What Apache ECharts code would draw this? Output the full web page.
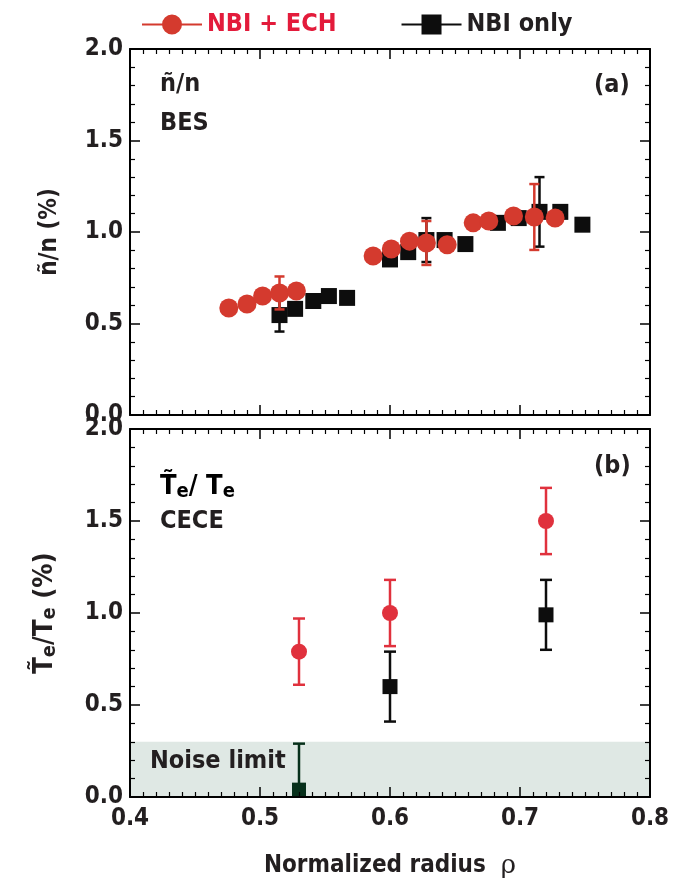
<!DOCTYPE html>
<html>
<head>
<meta charset="utf-8">
<script src="https://cdn.jsdelivr.net/npm/echarts@6/dist/echarts.min.js"></script>
<style>
html,body{margin:0;padding:0;background:#fff;}
#chart{width:678px;height:881px;}
</style>
</head>
<body>
<div id="chart"></div>
<script>
// panel (a): BES density fluctuation
var topRedX = [0.476,0.490,0.502,0.515,0.528,0.587,0.601,0.615,0.628,0.644,0.664,0.676,0.695,0.711,0.727];
var topRedY = [0.585,0.607,0.650,0.667,0.678,0.869,0.907,0.950,0.940,0.930,1.050,1.060,1.087,1.082,1.076];
var topRedErr = [null,null,null,0.09,null,null,null,null,0.12,null,null,null,null,0.18,null];
var topBlackX = [0.515,0.527,0.541,0.553,0.567,0.600,0.614,0.628,0.642,0.658,0.683,0.699,0.715,0.731,0.748];
var topBlackY = [0.546,0.580,0.623,0.650,0.640,0.850,0.890,0.956,0.956,0.934,1.050,1.076,1.110,1.110,1.040];
var topBlackErr = [0.09,null,null,null,null,null,null,0.12,null,null,null,null,0.19,null,null];

// panel (b): CECE temperature fluctuation
var botRedX = [0.53,0.60,0.72];
var botRedY = [0.79,1.00,1.50];
var botRedErr = [0.18,0.18,0.18];
var botBlackX = [0.60,0.72];
var botBlackY = [0.60,0.99];
var botBlackErr = [0.19,0.19];
var noiseX = [0.53];
var noiseY = [0.04];
var noiseTop = [0.29];
var noiseLevel = 0.3;

var FONT = '"DejaVu Sans Condensed","Liberation Sans",Arial,sans-serif';
var RED = '#d43a2e';
var RED2 = '#e0313d';
var BLACK = '#0d0d0d';
var TXT = '#231f20';

function pts(xs, ys){
	var out = [];
	for(var i=0;i<xs.length;i++){ out.push([xs[i], ys[i]]); }
	return out;
}
function errs(xs, ys, es){
	var out = [];
	for(var i=0;i<xs.length;i++){
		if(es[i]==null) continue;
		out.push([xs[i], ys[i]-es[i], ys[i]+es[i]]);
	}
	return out;
}

function errorBar(color, capW){
	return function(params, api){
		var x = api.value(0);
		var p1 = api.coord([x, api.value(2)]);
		var p2 = api.coord([x, api.value(1)]);
		var st = {stroke:color, lineWidth:2.5};
		return {type:'group', children:[
			{type:'line', shape:{x1:p1[0],y1:p1[1],x2:p2[0],y2:p2[1]}, style:st},
			{type:'line', shape:{x1:p1[0]-capW,y1:p1[1],x2:p1[0]+capW,y2:p1[1]}, style:st},
			{type:'line', shape:{x1:p2[0]-capW,y1:p2[1],x2:p2[0]+capW,y2:p2[1]}, style:st}
		]};
	};
}

function yAx(grid, pos, withLabel, name){
	var a = {
		type:'value', gridIndex:grid, position:pos, min:0, max:2, interval:0.5, z:10,
		axisLine:{show:true, onZero:false, lineStyle:{color:'#000', width:2}},
		axisTick:{show:true, inside:true, length:10, lineStyle:{color:'#000', width:1.5}},
		minorTick:{show:true, splitNumber:5, length:5, lineStyle:{color:'#000', width:1.2}},
		splitLine:{show:false},
		axisLabel:{show:withLabel, margin:7, color:TXT, fontFamily:FONT, fontWeight:'bold', fontSize:24,
			formatter:function(v){ return v.toFixed(1); }}
	};
	if(name){
		a.name = name.text;
		a.nameLocation = 'middle';
		a.nameRotate = 90;
		a.nameGap = 68;
		a.nameTextStyle = name.style;
	}
	return a;
}
function xAx(grid, pos, withLabel, name){
	var a = {
		type:'value', gridIndex:grid, position:pos, min:0.4, max:0.8, interval:0.1, z:10,
		axisLine:{show:true, onZero:false, lineStyle:{color:'#000', width:2}},
		axisTick:{show:true, inside:true, length:10, lineStyle:{color:'#000', width:1.5}},
		minorTick:{show:true, splitNumber:10, length:5, lineStyle:{color:'#000', width:1.2}},
		splitLine:{show:false},
		axisLabel:{show:withLabel, margin:10, color:TXT, fontFamily:FONT, fontWeight:'bold', fontSize:24,
			formatter:function(v){ return v.toFixed(1); }}
	};
	if(name){
		a.name = name.text;
		a.nameLocation = 'middle';
		a.nameGap = 56;
		a.nameTextStyle = name.style;
	}
	return a;
}

var nameStyleA = {color:TXT, fontFamily:FONT, fontWeight:'bold', fontSize:24};
var nameStyleB = {
	rich:{
		b:{color:TXT, fontFamily:FONT, fontWeight:'bold', fontSize:27, lineHeight:34},
		s:{color:TXT, fontFamily:FONT, fontWeight:'bold', fontSize:20, lineHeight:34, padding:[10,0,0,0]}
	}
};
var nameStyleX = {
	rich:{
		b:{color:TXT, fontFamily:FONT, fontWeight:'bold', fontSize:24},
		r:{color:TXT, fontFamily:'"DejaVu Serif",serif', fontSize:26}
	}
};

var chart = echarts.init(document.getElementById('chart'));
var option = {
	backgroundColor:'#fff',
	animation:false,
	legend:{
		left:137, top:7, itemWidth:60, itemHeight:20, itemGap:65,
		textStyle:{fontFamily:FONT, fontWeight:'bold', fontSize:25},
		data:[
			{name:'NBI + ECH', icon:'path://M0,9 H60 V11 H0 Z M20,10 A10,10 0 1 1 40,10 A10,10 0 1 1 20,10 Z', textStyle:{color:'#e31b3b'}},
			{name:'NBI only', icon:'path://M0,9 H60 V11 H0 Z M20,0 H40 V20 H20 Z', textStyle:{color:TXT}}
		]
	},
	grid:[
		{left:130, top:49, width:520, height:366},
		{left:130, top:429, width:520, height:368}
	],
	xAxis:[
		xAx(0,'bottom',false),
		xAx(0,'top',false),
		xAx(1,'bottom',true,{text:'{b|Normalized radius  }{r|ρ}', style:nameStyleX}),
		xAx(1,'top',false)
	],
	yAxis:[
		yAx(0,'left',true,{text:'ñ/n (%)', style:nameStyleA}),
		yAx(0,'right',false),
		yAx(1,'left',true,{text:'{b|T̃}{s|e}{b|/T}{s|e}{b| (%)}', style:nameStyleB}),
		yAx(1,'right',false)
	],
	graphic:[
		{type:'text', left:160, top:72, style:{text:'ñ/n', fill:TXT, font:'bold 25px '+FONT}},
		{type:'text', left:160, top:111, style:{text:'BES', fill:TXT, font:'bold 25px '+FONT}},
		{type:'text', left:594, top:73, style:{text:'(a)', fill:TXT, font:'bold 25px '+FONT}},
		{type:'text', left:160, top:472, style:{text:'{b|T̃}{s|e}{b|/ T}{s|e}', rich:nameStyleB.rich}},
		{type:'text', left:160, top:509, style:{text:'CECE', fill:TXT, font:'bold 25px '+FONT}},
		{type:'text', left:594, top:454, style:{text:'(b)', fill:TXT, font:'bold 25px '+FONT}},
		{type:'text', left:150, top:749, z:20, style:{text:'Noise limit', fill:TXT, font:'bold 25px '+FONT}}
	],
	series:[
		{type:'custom', name:'errA_black', xAxisIndex:0, yAxisIndex:0, encode:{x:0,y:[1,2]},
			renderItem:errorBar(BLACK,5), data:errs(topBlackX,topBlackY,topBlackErr), z:2},
		{type:'scatter', name:'NBI only', xAxisIndex:0, yAxisIndex:0, symbol:'rect', symbolSize:16,
			itemStyle:{color:BLACK, opacity:1}, data:pts(topBlackX,topBlackY), z:3},
		{type:'custom', name:'errA_red', xAxisIndex:0, yAxisIndex:0, encode:{x:0,y:[1,2]},
			renderItem:errorBar(RED,5), data:errs(topRedX,topRedY,topRedErr), z:4},
		{type:'scatter', name:'NBI + ECH', xAxisIndex:0, yAxisIndex:0, symbol:'circle', symbolSize:19,
			itemStyle:{color:RED, opacity:1}, data:pts(topRedX,topRedY), z:5},

		{type:'scatter', name:'noise', xAxisIndex:2, yAxisIndex:2, symbol:'rect', symbolSize:14,
			itemStyle:{color:'#07301b', opacity:1}, data:pts(noiseX,noiseY), z:3,
			markArea:{silent:true, itemStyle:{color:'#dfe8e4', opacity:1},
				data:[[{yAxis:0},{yAxis:noiseLevel}]]}},
		{type:'custom', name:'errN', xAxisIndex:2, yAxisIndex:2, encode:{x:0,y:[1,2]},
			renderItem:errorBar('#07301b',6), data:[[noiseX[0], noiseY[0], noiseTop[0]]], z:2},
		{type:'custom', name:'errB_black', xAxisIndex:2, yAxisIndex:2, encode:{x:0,y:[1,2]},
			renderItem:errorBar(BLACK,6), data:errs(botBlackX,botBlackY,botBlackErr), z:2},
		{type:'scatter', name:'NBI only', xAxisIndex:2, yAxisIndex:2, symbol:'rect', symbolSize:15,
			itemStyle:{color:BLACK, opacity:1}, data:pts(botBlackX,botBlackY), z:3},
		{type:'custom', name:'errB_red', xAxisIndex:2, yAxisIndex:2, encode:{x:0,y:[1,2]},
			renderItem:errorBar(RED2,6), data:errs(botRedX,botRedY,botRedErr), z:4},
		{type:'scatter', name:'NBI + ECH', xAxisIndex:2, yAxisIndex:2, symbol:'circle', symbolSize:16,
			itemStyle:{color:RED2, opacity:1}, data:pts(botRedX,botRedY), z:5}
	]
};
chart.setOption(option);
</script>
</body>
</html>
